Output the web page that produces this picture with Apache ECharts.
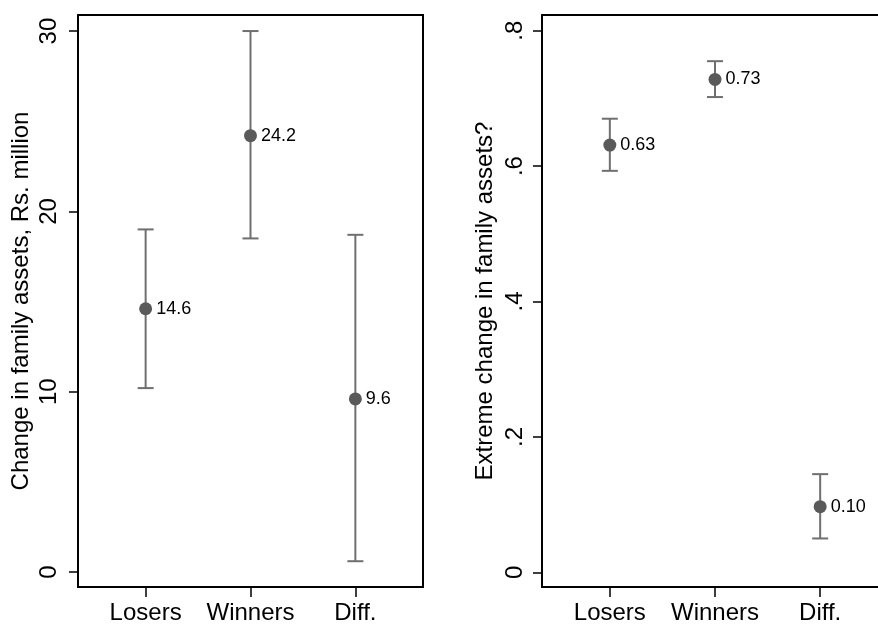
<!DOCTYPE html>
<html>
<head>
<meta charset="utf-8">
<script src="https://cdn.jsdelivr.net/npm/echarts@6/dist/echarts.min.js"></script>
<style>
html,body{margin:0;padding:0;background:#fff;}
#chart{width:878px;height:624px;}
</style>
</head>
<body>
<div id="chart"></div>
<script>
const categories = ['Losers', 'Winners', 'Diff.'];
const catPositions = [1, 2, 3];

const assetsMean = [14.6, 24.2, 9.6];
const assetsLow = [10.2, 18.5, 0.6];
const assetsHigh = [19.0, 30.0, 18.7];

const extremeMean = [0.631, 0.728, 0.097];
const extremeLow = [0.593, 0.702, 0.050];
const extremeHigh = [0.670, 0.755, 0.145];

const leftTicks = [0, 10, 20, 30];
const leftTickLabels = ['0', '10', '20', '30'];
const rightTicks = [0, 0.2, 0.4, 0.6, 0.8];
const rightTickLabels = ['0', '.2', '.4', '.6', '.8'];

const leftTitle = 'Change in family assets, Rs. million';
const rightTitle = 'Extreme change in family assets?';

const FONT = 'Liberation Sans, Arial, Helvetica, sans-serif';
const BAR_COLOR = '#6f6f6f';
const DOT_COLOR = '#5a5a5a';

function xAxis(gridIndex) {
  return {
    type: 'value', gridIndex: gridIndex, min: 0.355, max: 3.645,
    splitLine: {show: false},
    axisLine: {show: true, onZero: false, lineStyle: {color: '#000', width: 2}},
    axisTick: {show: true, customValues: catPositions, length: 10, lineStyle: {color: '#000', width: 1.5}},
    axisLabel: {
      customValues: catPositions, margin: 14, fontSize: 24, color: '#000', fontFamily: FONT,
      formatter: function (v) { return categories[catPositions.indexOf(Math.round(v))]; }
    }
  };
}

function yAxis(gridIndex, min, max, ticks, labels, title, margin, gap) {
  return {
    type: 'value', gridIndex: gridIndex, min: min, max: max,
    splitLine: {show: false},
    axisLine: {show: true, onZero: false, lineStyle: {color: '#000', width: 2}},
    axisTick: {show: true, customValues: ticks, length: 9, lineStyle: {color: '#000', width: 1.5}},
    axisLabel: {
      customValues: ticks, rotate: 90, margin: margin, fontSize: 24, color: '#000', fontFamily: FONT,
      formatter: function (v) {
        let best = 0;
        for (let i = 0; i < ticks.length; i++) if (Math.abs(ticks[i] - v) < Math.abs(ticks[best] - v)) best = i;
        return labels[best];
      }
    },
    name: title, nameLocation: 'middle', nameRotate: 90, nameGap: gap,
    nameTextStyle: {fontSize: 24, color: '#000', fontFamily: FONT}
  };
}

function errorSeries(idx, low, high) {
  return {
    type: 'custom', xAxisIndex: idx, yAxisIndex: idx,
    data: catPositions.map((x, i) => [x, low[i], high[i]]),
    renderItem: function (params, api) {
      const x = api.value(0);
      const lo = api.coord([x, api.value(1)]);
      const hi = api.coord([x, api.value(2)]);
      const hw = 8;
      const style = {stroke: BAR_COLOR, lineWidth: 2};
      return {
        type: 'group',
        children: [
          {type: 'line', shape: {x1: lo[0], y1: lo[1], x2: hi[0], y2: hi[1]}, style: style},
          {type: 'line', shape: {x1: lo[0] - hw, y1: lo[1], x2: lo[0] + hw, y2: lo[1]}, style: style},
          {type: 'line', shape: {x1: hi[0] - hw, y1: hi[1], x2: hi[0] + hw, y2: hi[1]}, style: style}
        ]
      };
    },
    z: 2
  };
}

function pointSeries(idx, vals, digits) {
  return {
    type: 'scatter', xAxisIndex: idx, yAxisIndex: idx,
    data: catPositions.map((x, i) => [x, vals[i]]),
    symbol: 'circle', symbolSize: 13,
    itemStyle: {color: DOT_COLOR, opacity: 1},
    emphasis: {disabled: true},
    label: {
      show: true, position: 'right', distance: 4, fontSize: 18, color: '#000', fontFamily: FONT,
      formatter: function (p) { return p.value[1].toFixed(digits); }
    },
    z: 3
  };
}

const chart = echarts.init(document.getElementById('chart'), null, {renderer: 'canvas'});
chart.setOption({
  backgroundColor: '#fff',
  animation: false,
  grid: [
    {left: 78, top: 15, width: 345, height: 572, outerBoundsMode: 'none', containLabel: false, show: true, borderColor: '#000', borderWidth: 2, backgroundColor: 'transparent'},
    {left: 542, top: 15, width: 346, height: 572, outerBoundsMode: 'none', containLabel: false, show: true, borderColor: '#000', borderWidth: 2, backgroundColor: 'transparent'}
  ],
  xAxis: [xAxis(0), xAxis(1)],
  yAxis: [
    yAxis(0, -0.83, 30.89, leftTicks, leftTickLabels, leftTitle, 17, 45),
    yAxis(1, -0.0217, 0.8232, rightTicks, rightTickLabels, rightTitle, 15, 45)
  ],
  series: [
    errorSeries(0, assetsLow, assetsHigh),
    pointSeries(0, assetsMean, 1),
    errorSeries(1, extremeLow, extremeHigh),
    pointSeries(1, extremeMean, 2)
  ]
});
</script>
</body>
</html>
